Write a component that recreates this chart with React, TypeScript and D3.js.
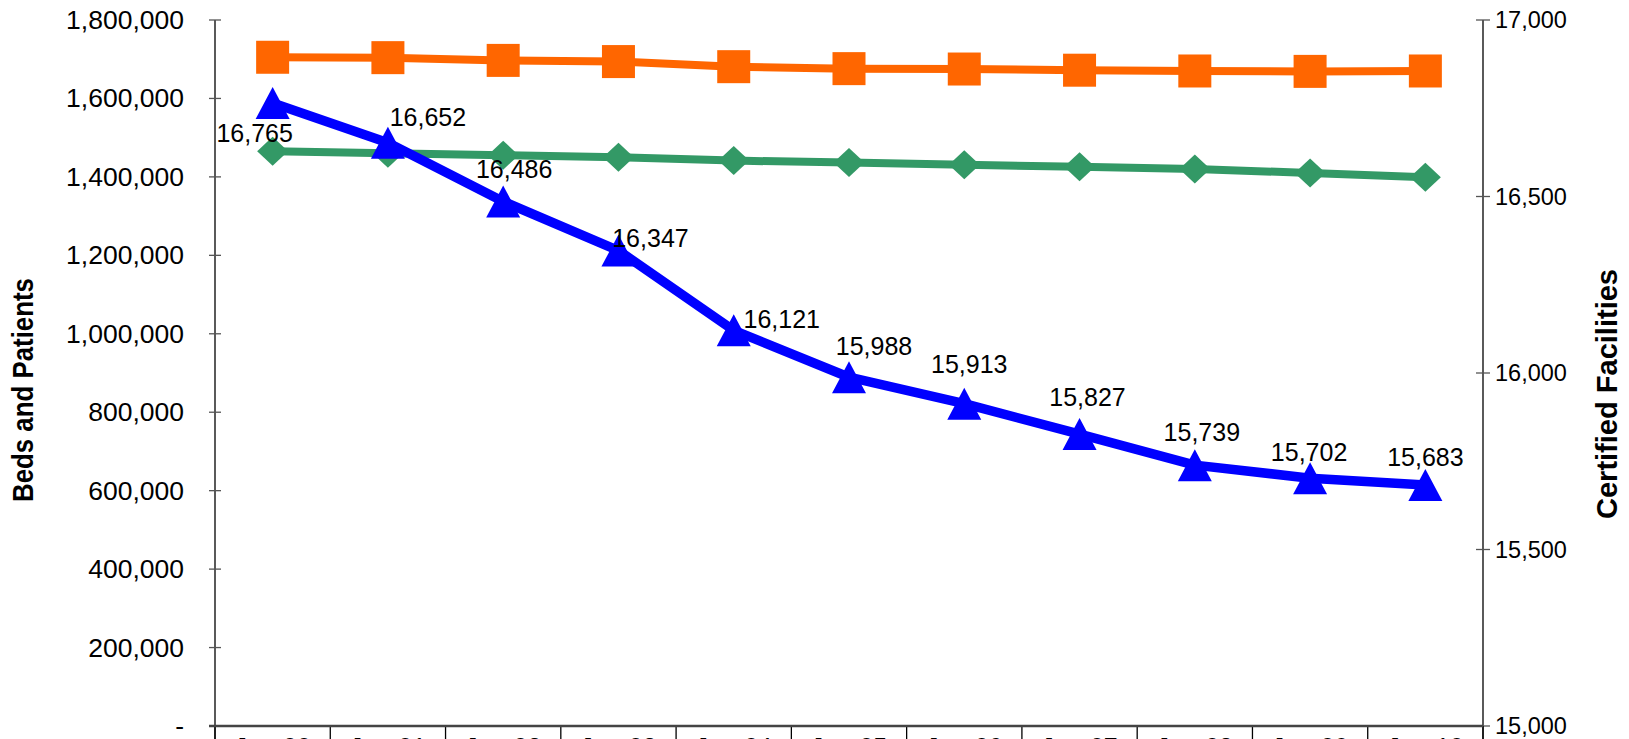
import React from "react";
import * as d3 from "d3";

const categories = ["Jun-00", "Jun-01", "Jun-02", "Jun-03", "Jun-04", "Jun-05", "Jun-06", "Jun-07", "Jun-08", "Jun-09", "Jun-10"];
const beds = [1705000, 1704000, 1697000, 1694000, 1681000, 1676000, 1675000, 1672000, 1670000, 1669000, 1670000];
const patients = [1465500, 1460400, 1455300, 1450200, 1441500, 1436400, 1431000, 1425700, 1420300, 1409900, 1399100];
const facilities = [16765, 16652, 16486, 16347, 16121, 15988, 15913, 15827, 15739, 15702, 15683];
const leftTicks = [0, 200000, 400000, 600000, 800000, 1000000, 1200000, 1400000, 1600000, 1800000];
const rightTicks = [15000, 15500, 16000, 16500, 17000];
// label offsets (style): label centre relative to marker centre
const labelOffsets: [number, number][] = [[-18, 30], [40, -26], [11, -32], [32, -13], [48, -11], [25, -31], [5, -40], [8, -37], [7, -33], [-1, -26], [0, -28]];

const W = 1629, H = 739;
const L = 215, R = 1483, T = 20, B = 726;
const FONT = "Arial, 'Liberation Sans', sans-serif";

export default function App() {
  const x = d3.scaleBand<string>().domain(categories).range([L, R]).padding(0);
  const cx = (i: number) => (x(categories[i]) as number) + x.bandwidth() / 2;
  const yL = d3.scaleLinear().domain([0, 1800000]).range([B, T]);
  const yR = d3.scaleLinear().domain([15000, 17000]).range([B, T]);
  const fmt = d3.format(",");

  const lineL = (vals: number[]) => d3.line<number>().x((_, i) => cx(i)).y((v) => yL(v))(vals) as string;
  const lineR = d3.line<number>().x((_, i) => cx(i)).y((v) => yR(v))(facilities) as string;

  const sq = 33, dw = 31, dh = 29, tw = 34, th = 32;
  const boundaries = categories.map((c) => x(c) as number).concat([R]);

  return (
    <svg width={W} height={H} style={{ position: "absolute", left: 0, top: 0, background: "#fff" }} fontFamily={FONT}>
      {/* left axis */}
      <line x1={L} x2={L} y1={T} y2={H} stroke="#000" strokeWidth={1.3} />
      {leftTicks.map((t) => (
        <g key={"l" + t}>
          <line x1={L - 6} x2={L + 6} y1={yL(t)} y2={yL(t)} stroke="#555" strokeWidth={1.3} />
          <text x={184} y={yL(t)} textAnchor="end" dominantBaseline="central" fontSize={26.5} fill="#000">
            {t === 0 ? "-" : fmt(t)}
          </text>
        </g>
      ))}
      {/* right axis */}
      <line x1={R} x2={R} y1={T} y2={H} stroke="#000" strokeWidth={1.3} />
      {rightTicks.map((t) => (
        <g key={"r" + t}>
          <line x1={R - 7} x2={R + 7} y1={yR(t)} y2={yR(t)} stroke="#555" strokeWidth={1.3} />
          <text x={1495} y={yR(t)} textAnchor="start" dominantBaseline="central" fontSize={23.5} fill="#000">
            {fmt(t)}
          </text>
        </g>
      ))}
      {/* category axis */}
      {boundaries.map((b, i) => (
        <line key={"b" + i} x1={b} x2={b} y1={B} y2={H} stroke="#000" strokeWidth={1.3} />
      ))}
      <line x1={L - 6} x2={R} y1={B} y2={B} stroke="#444" strokeWidth={2.5} />
      {categories.map((c, i) => (
        <text key={c} x={cx(i)} y={756} textAnchor="middle" fontSize={25} fill="#000">{c}</text>
      ))}
      {/* axis titles */}
      <text transform={`translate(23,390) rotate(-90)`} textAnchor="middle" dominantBaseline="central" fontSize={29} fontWeight="bold" textLength={224} lengthAdjust="spacingAndGlyphs">
        Beds and Patients
      </text>
      <text transform={`translate(1607,394) rotate(-90)`} textAnchor="middle" dominantBaseline="central" fontSize={29} fontWeight="bold" textLength={250} lengthAdjust="spacingAndGlyphs">
        Certified Facilities
      </text>

      {/* beds: orange squares */}
      <path d={lineL(beds)} fill="none" stroke="#FF6600" strokeWidth={8} />
      {beds.map((v, i) => (
        <rect key={"s" + i} x={cx(i) - sq / 2} y={yL(v) - sq / 2} width={sq} height={sq} fill="#FF6600" />
      ))}
      {/* patients: green diamonds */}
      <path d={lineL(patients)} fill="none" stroke="#339966" strokeWidth={8} />
      {patients.map((v, i) => {
        const px = cx(i), py = yL(v);
        return (
          <path key={"d" + i} d={`M${px},${py - dh / 2}L${px + dw / 2},${py}L${px},${py + dh / 2}L${px - dw / 2},${py}Z`} fill="#339966" />
        );
      })}
      {/* facilities: blue triangles */}
      <path d={lineR} fill="none" stroke="#0000FF" strokeWidth={9.5} strokeLinejoin="round" />
      {facilities.map((v, i) => {
        const px = cx(i), py = yR(v);
        return (
          <path key={"t" + i} d={`M${px},${py - th / 2}L${px + tw / 2},${py + th / 2}L${px - tw / 2},${py + th / 2}Z`} fill="#0000FF" />
        );
      })}
      {facilities.map((v, i) => (
        <text key={"lab" + i} x={cx(i) + labelOffsets[i][0]} y={yR(v) + labelOffsets[i][1]} textAnchor="middle" dominantBaseline="central" fontSize={25} fill="#000">
          {fmt(v)}
        </text>
      ))}
    </svg>
  );
}
